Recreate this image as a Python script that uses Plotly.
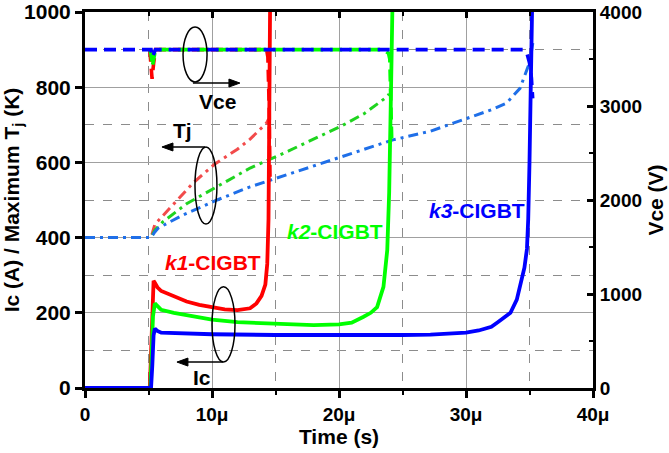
import plotly.graph_objects as go

US = 1e-6
# ---------------- data (time in microseconds) ----------------
# Collector current Ic (A)
t_ic_k1 = [0, 5.1, 5.2, 5.3, 5.4, 5.5, 5.7, 6.0, 7.0, 8.0, 9.0, 10.0, 11.0, 12.0, 13.0, 13.5, 13.9, 14.2, 14.35, 14.45, 14.5, 14.57]
ic_k1 = [0, 0, 90, 230, 285, 280, 268, 258, 243, 230, 221, 214, 209, 207, 212, 225, 245, 275, 330, 450, 600, 1000]

t_ic_k2 = [0, 5.15, 5.25, 5.35, 5.5, 5.7, 6.0, 7.0, 9.0, 10.0, 12.0, 15.0, 18.0, 20.0, 21.0, 21.9, 22.5, 23.0, 23.5, 23.8, 23.95, 24.1, 24.2]
ic_k2 = [0, 0, 90, 190, 225, 218, 208, 200, 188, 182, 175, 170, 167, 169, 174, 189, 200, 215, 269, 367, 520, 800, 1000]

t_ic_k3 = [0, 5.2, 5.3, 5.4, 5.5, 5.7, 6.0, 8.0, 10.0, 15.0, 20.0, 25.0, 27.2, 30.0, 31.0, 32.0, 32.5, 33.0, 33.5, 34.0, 34.3, 34.6, 34.8, 34.9, 35.0, 35.1, 35.2]
ic_k3 = [0, 0, 60, 140, 158, 152, 147, 145, 143, 141, 140, 141, 142, 147, 153, 163, 175, 186, 200, 235, 275, 320, 370, 450, 600, 800, 1000]

# Maximum junction temperature Tj (K)
t_tj_k1 = [0, 5.2, 5.5, 7.0, 8.5, 10.2, 12.0, 13.0, 14.3, 14.45]
tj_k1 = [400, 400, 435, 490, 545, 595, 635, 662, 705, 715]

t_tj_k2 = [0, 5.2, 5.5, 6.1, 8.0, 10.4, 13.0, 16.0, 20.2, 22.0, 23.8, 23.95]
tj_k2 = [400, 400, 420, 441, 490, 535, 585, 630, 697, 730, 775, 782]

t_tj_k3 = [0, 5.2, 5.5, 5.75, 7.7, 10.4, 13.0, 14.6, 18.0, 21.0, 24.25, 27.2, 30.1, 32.0, 33.2, 34.25, 35.0, 35.3]
tj_k3 = [400, 400, 415, 425, 460, 500, 535, 553, 590, 625, 660, 683, 718, 740, 758, 797, 865, 925]

# Collector-emitter voltage Vce (V)
t_vce_k1 = [5.1, 5.2, 5.28, 5.4, 5.55, 14.3, 14.4, 14.5, 14.57]
vce_k1 = [3600, 3450, 3290, 3450, 3600, 3600, 3520, 3000, 2200]

t_vce_k2 = [5.1, 5.2, 5.3, 5.4, 5.55, 23.5, 23.9, 24.0, 24.1, 24.15]
vce_k2 = [3600, 3550, 3420, 3500, 3600, 3600, 3560, 3500, 3000, 2640]

t_vce_k3 = [0, 5.2, 5.3, 5.4, 5.55, 34.5, 34.8, 35.0, 35.15, 35.25]
vce_k3 = [3600, 3600, 3520, 3560, 3600, 3600, 3560, 3460, 3300, 3080]

x_ticks = [0, 10, 20, 30, 40]
x_tick_text = ["0", "10\u03bc", "20\u03bc", "30\u03bc", "40\u03bc"]

RED, GREEN, BLUE = "#ff0000", "#00ff00", "#0000ff"
RED_T, GREEN_T, BLUE_T = "#f24b4b", "#1fd41f", "#1f6fe8"
FONT = "Liberation Sans, Arial, sans-serif"


def us(ts):
    return [t * US for t in ts]


fig = go.Figure()

# Vce (right axis)
for t, v, c in [(t_vce_k1, vce_k1, RED), (t_vce_k2, vce_k2, GREEN), (t_vce_k3, vce_k3, BLUE)]:
    fig.add_trace(go.Scatter(x=us(t), y=v, yaxis="y2", mode="lines",
                             line=dict(color=c, width=3.6, dash="12px,7px"),
                             showlegend=False, hoverinfo="skip"))
# Tj
for t, v, c in [(t_tj_k1, tj_k1, RED_T), (t_tj_k2, tj_k2, GREEN_T), (t_tj_k3, tj_k3, BLUE_T)]:
    fig.add_trace(go.Scatter(x=us(t), y=v, mode="lines",
                             line=dict(color=c, width=3, dash="10px,5px,3px,5px"),
                             showlegend=False, hoverinfo="skip"))
# Ic
for t, v, c in [(t_ic_k1, ic_k1, RED), (t_ic_k2, ic_k2, GREEN), (t_ic_k3, ic_k3, BLUE)]:
    fig.add_trace(go.Scatter(x=us(t), y=v, mode="lines",
                             line=dict(color=c, width=3.8),
                             showlegend=False, hoverinfo="skip"))

# invisible trace to carry the top (mirror) axis
fig.add_trace(go.Scatter(x=us(t_ic_k3), y=ic_k3, xaxis="x2", mode="lines",
                         line=dict(width=0), opacity=0, showlegend=False, hoverinfo="skip"))

GRID = "#a0a0a0"
MINOR_GRID = "#8c8c8c"

fig.update_layout(
    width=669, height=453,
    margin=dict(l=85, r=76, t=12, b=65),
    plot_bgcolor="white", paper_bgcolor="white",
    font=dict(family=FONT, color="black", size=19),
    xaxis=dict(
        range=[0, 40 * US], tickvals=us(x_ticks), ticktext=x_tick_text,
        showline=True, linecolor="black", linewidth=3,
        ticks="outside", ticklen=7, tickwidth=2.5, tickcolor="black",
        showgrid=True, gridcolor=GRID, gridwidth=1,
        minor=dict(dtick=5 * US, tick0=0, ticks="outside", ticklen=4, tickwidth=2,
                   tickcolor="black", showgrid=True, gridcolor=MINOR_GRID, griddash="dash", gridwidth=1),
        tickfont=dict(size=19, family=FONT, weight="bold"),
        title=dict(text="Time (s)", font=dict(size=21, family=FONT, weight="bold"), standoff=2),
        zeroline=False, automargin=False,
    ),
    xaxis2=dict(
        overlaying="x", matches="x", side="top", anchor="y",
        showline=True, linecolor="black", linewidth=3,
        ticks="inside", ticklen=6, tickwidth=2.5, tickcolor="black",
        tickvals=us(x_ticks), showticklabels=False, showgrid=False, zeroline=False,
        minor=dict(dtick=5 * US, tick0=0, ticks="inside", ticklen=4, tickwidth=2, tickcolor="black"),
        automargin=False,
    ),
    yaxis=dict(
        range=[0, 1000], dtick=200, tick0=0,
        showline=True, linecolor="black", linewidth=3,
        ticks="outside", ticklen=7, tickwidth=2.5, tickcolor="black",
        showgrid=True, gridcolor=GRID, gridwidth=1,
        minor=dict(dtick=100, tick0=0, ticks="", showgrid=True, gridcolor=MINOR_GRID,
                   griddash="dash", gridwidth=1),
        tickfont=dict(size=21, family=FONT, weight="bold"),
        title=dict(text="Ic (A) / Maximum T<sub>j</sub> (K)",
                   font=dict(size=21, family=FONT, weight="bold"), standoff=4),
        zeroline=False, automargin=False,
    ),
    yaxis2=dict(
        range=[0, 4000], dtick=1000, tick0=0, overlaying="y", side="right", anchor="x",
        showline=True, linecolor="black", linewidth=3,
        ticks="inside", ticklen=6, tickwidth=2.5, tickcolor="black",
        minor=dict(dtick=500, tick0=0, ticks="inside", ticklen=4, tickwidth=2, tickcolor="black"),
        showgrid=False, zeroline=False,
        tickfont=dict(size=19, family=FONT, weight="bold"),
        title=dict(text="Vce (V)", font=dict(size=21, family=FONT, weight="bold"), standoff=8),
        automargin=False,
    ),
)

# ellipses around the curve groups
ell = [(7.72, 9.61, 814, 960), (8.66, 10.39, 436, 641), (10.0, 11.81, 69, 269)]
for x0, x1, y0, y1 in ell:
    fig.add_shape(type="circle", xref="x", yref="y", x0=x0 * US, x1=x1 * US, y0=y0, y1=y1,
                  line=dict(color="black", width=1.5))

# arrows (line + triangular head), head point first
arrows = [((12.2, 811), (8.5, 811), 1), ((6.06, 641), (9.45, 641), -1), ((7.24, 69), (10.87, 69), -1)]
for (hx, hy), (tx, ty), d in arrows:
    fig.add_shape(type="line", xref="x", yref="y", x0=tx * US, y0=ty, x1=(hx - d * 0.5) * US, y1=hy,
                  line=dict(color="black", width=1.5))
    fig.add_shape(type="path", xref="x", yref="y", xsizemode="pixel", ysizemode="pixel",
                  xanchor=hx * US, yanchor=hy,
                  path=f"M 0,0 L {-d * 11},4 L {-d * 11},-4 Z",
                  fillcolor="black", line=dict(color="black", width=1))

labels = [("Vce", 10.47, 761, "black"), ("Tj", 7.64, 686, "black"), ("Ic", 9.21, 29, "black"),
          ("<i>k1</i>-CIGBT", 10.08, 335, RED), ("<i>k2</i>-CIGBT", 19.69, 415, GREEN),
          ("<i>k3</i>-CIGBT", 30.87, 473, BLUE)]
for txt, x, y, c in labels:
    fig.add_annotation(x=x * US, y=y, xref="x", yref="y", text=txt, showarrow=False,
                       font=dict(size=21, family=FONT, color=c, weight="bold"))

fig.write_html("out.html")
